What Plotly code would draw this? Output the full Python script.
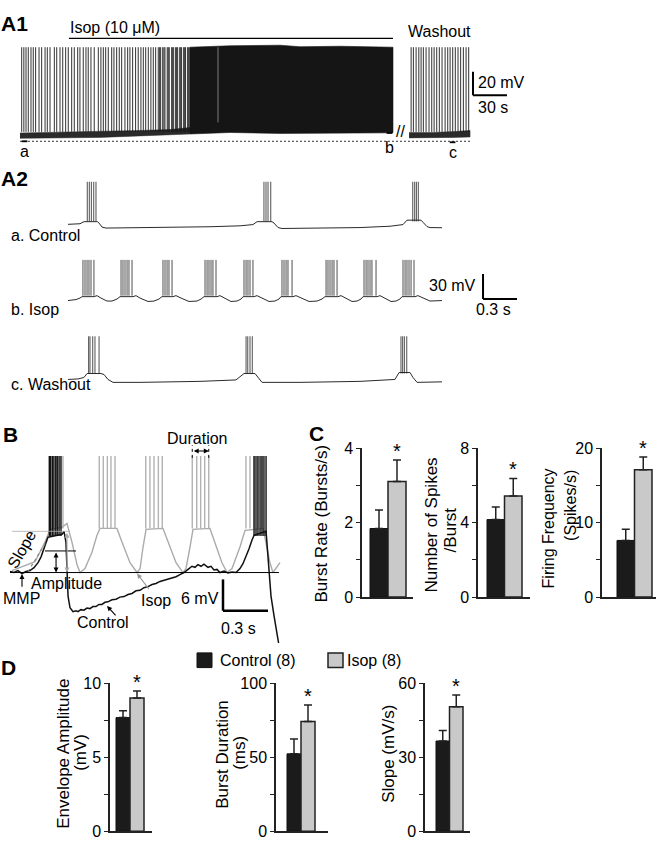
import plotly.graph_objects as go

W, H = 661, 854
SANS = "Liberation Sans, Arial"

# ---------------- A1: whole recording (time s, potential mV)
a1_spikes = [1.5, 3.4, 5.3, 7.3, 9.7, 11.7, 13.8, 16.8, 19.1, 22.1, 24.1, 26.5, 30.3, 32.4,
             35.3, 37.7, 40.3, 42.6, 45.6, 47.9, 50.9, 52.9, 55.8, 58.2, 60.2, 62.6, 65.5,
             69.1, 71.4, 73.5, 75.6, 77.9, 80.9, 82.9, 85.3, 87.6, 89.7, 92.6, 95.0, 97.0,
             99.4, 102.0, 104.3, 106.7, 108.8, 110.9, 113.2, 115.5, 117.6, 119.7, 122.0,
             123.2, 124.1, 125.9, 127.0, 127.9, 129.9, 130.8, 131.7, 133.8, 134.7, 135.6,
             137.3, 138.2, 139.1, 140.9, 141.8, 142.6, 144.4, 145.3, 146.1, 147.9, 148.8, 149.7]
a1_spike_top = 15.0
a1_spike_foot = -57.0
a1_base_t = [0, 35.3, 70.6, 105.9, 132.4, 150.0]
a1_base_lo = [-62.5, -62.1, -61.7, -60.4, -59.6, -58.8]
a1_base_hi = [-57.9, -57.5, -56.7, -55.8, -55.0, -53.3]
a1_block_t = [150.0, 185.3, 229.4, 247.1, 282.4, 329.1]
a1_block_top = [15.0, 16.2, 16.7, 15.4, 15.8, 15.0]
a1_block_bot = [-58.8, -57.5, -58.3, -58.3, -58.3, -57.8]
a1_faint = [174.7]
a1_wash_start = 343.3
a1_wash_spikes = [1.8, 3.8, 6.2, 8.6, 10.6, 12.6, 15.0, 17.6, 20.0, 22.1, 24.4, 26.7,
                  29.1, 31.8, 34.1, 36.2, 38.5, 40.8, 43.2, 45.5, 47.9, 50.3, 52.6]
a1_wash_t = [0, 20.0, 40.0, 53.8]
a1_wash_lo = [-62.1, -62.1, -61.7, -61.3]
a1_wash_hi = [-57.5, -57.5, -56.7, -55.8]
isop_on, isop_off = 43.2, 329.1
a1_rest = -65.0
a1_excerpt_t = [4.0, 326.0, 381.7]
a1_excerpt_lbl = ["a", "b", "c"]

# ---------------- A2: excerpts (time s, potential mV)
a2_ctrl_t = [0, 0.106, 0.141, 0.26, 0.274, 0.300, 0.335, 0.547, 0.900, 1.253, 1.518, 1.632, 1.668,
             1.800, 1.818, 1.853, 1.888, 2.224, 2.577, 2.841, 2.956, 2.991, 3.115, 3.132, 3.168,
             3.194, 3.300]
a2_ctrl_v = [-58.5, -57.8, -55.3, -55.3, -57.0, -61.8, -63.0, -62.8, -62.2, -61.4, -60.3, -58.8,
             -55.3, -55.3, -57.0, -62.4, -63.5, -63.3, -62.4, -60.8, -58.8, -53.5, -53.5, -56.0,
             -61.2, -62.4, -62.6]
a2_ctrl_spk = [0.170, 0.188, 0.206, 0.227, 0.247, 1.729, 1.747, 1.765, 1.789,
               3.042, 3.059, 3.074, 3.091]

a2_isop_t = [0.000, 0.071, 0.106, 0.124, 0.229, 0.256, 0.291, 0.344, 0.388, 0.432, 0.459, 0.574,
             0.600, 0.635, 0.706, 0.759, 0.803, 0.829, 0.926, 0.953, 0.997, 1.068, 1.138, 1.174,
             1.200, 1.315, 1.341, 1.385, 1.438, 1.491, 1.527, 1.544, 1.641, 1.668, 1.712, 1.774,
             1.826, 1.862, 1.879, 1.985, 2.012, 2.056, 2.127, 2.197, 2.241, 2.268, 2.382, 2.409,
             2.453, 2.506, 2.550, 2.585, 2.603, 2.727, 2.753, 2.797, 2.850, 2.894, 2.929, 2.947,
             3.062, 3.088, 3.132, 3.194, 3.300]
a2_isop_v = [-61.8, -60.6, -58.8, -57.1, -57.1, -55.9, -58.8, -62.4, -62.4, -60.0, -57.1, -57.1,
             -55.9, -58.8, -62.9, -62.4, -60.0, -57.1, -57.1, -55.9, -58.8, -62.9, -62.4, -60.0,
             -57.1, -57.1, -55.9, -58.8, -62.9, -62.4, -60.0, -57.1, -57.1, -55.9, -58.8, -62.9,
             -62.4, -60.0, -57.1, -57.1, -55.9, -58.8, -62.9, -62.4, -60.0, -57.1, -57.1, -55.9,
             -58.8, -62.9, -62.4, -60.0, -57.1, -57.1, -55.9, -58.8, -62.9, -62.4, -60.0, -57.1,
             -57.1, -55.9, -58.8, -62.4, -61.8]
a2_isop_spk = [0.132, 0.150, 0.168, 0.185, 0.203, 0.229, 0.468, 0.485, 0.503, 0.521, 0.538, 0.565,
               0.838, 0.856, 0.874, 0.891, 0.918, 1.209, 1.227, 1.244, 1.262, 1.279, 1.306,
               1.553, 1.571, 1.588, 1.606, 1.632, 1.888, 1.906, 1.924, 1.941, 1.977,
               2.277, 2.294, 2.312, 2.330, 2.347, 2.374, 2.612, 2.630, 2.647, 2.665, 2.682, 2.718,
               2.956, 2.974, 2.991, 3.009, 3.027, 3.053]

a2_wash_t = [0, 0.088, 0.141, 0.168, 0.291, 0.318, 0.353, 0.397, 0.635, 1.165, 1.482, 1.527,
             1.553, 1.650, 1.677, 1.712, 2.047, 2.577, 2.885, 2.921, 3.018, 3.044, 3.080, 3.300]
a2_wash_v = [-61.2, -60.6, -58.8, -54.1, -54.1, -55.3, -61.2, -64.7, -64.7, -63.5, -61.8, -57.6,
             -54.1, -54.1, -58.8, -64.7, -64.7, -63.5, -61.2, -52.9, -52.9, -58.8, -64.7, -64.1]
a2_wash_spk = [0.182, 0.194, 0.218, 0.238, 0.274, 1.571, 1.586, 1.606, 1.626,
               2.938, 2.953, 2.968, 2.989]

a2_peak = [-7.4, -13.0, -9.4]
a2_foot = [-55.0, -56.0, -54.0]
a2_offset = [0.0, -88.2, -183.5]
a2_names = ["a. Control", "b. Isop", "c. Washout"]

# ---------------- B: overlay (time s, mV above MMP)
b_isop_t = [0.013, 0.167, 0.233, 0.267, 0.347, 0.380, 0.413, 0.447, 0.467, 0.5, 0.547, 0.58, 0.6,
            0.713, 0.747, 0.8, 0.847, 0.867, 0.887, 0.907, 1.02, 1.053, 1.107, 1.153, 1.173, 1.2,
            1.22, 1.333, 1.367, 1.413, 1.447, 1.48, 1.533, 1.567, 1.687, 1.707, 1.733, 1.753,
            1.773, 1.8]
b_isop_v = [0.38, 2.06, 5.81, 8.25, 8.63, 9.38, 5.81, 1.5, 0, 0.75, 3.94, 7.13, 8.44, 8.44, 5.81,
            1.88, 0, 0.75, 4.88, 8.25, 8.44, 5.81, 1.88, 0, 0.75, 4.88, 8.25, 8.44, 5.81, 1.88,
            0, 0.75, 4.88, 8.06, 8.44, 5.81, 1.88, 0, 0.75, 1.88]
b_isop_spk = [0.267, 0.289, 0.311, 0.333, 0.353, 0.595, 0.622, 0.649, 0.673, 0.7,
              0.905, 0.933, 0.96, 0.989, 1.015, 1.215, 1.245, 1.271, 1.298, 1.325,
              1.573, 1.6, 1.627, 1.653, 1.68]
b_ctrl_t = [0, .027, .053, .08, .107, .133, .16, .187, .207, .227, .24, .253, .347, .36, .373,
            .38, .387, .4, .42, .44, .453, .473, .493, .513, .533, .553, .573, .593, .613, .633,
            .653, .68, .707, .733, .76, .787, .813, .84, .867, .893, .92, .947, .973, 1.0, 1.027,
            1.053, 1.08, 1.107, 1.133, 1.16, 1.187, 1.213, 1.233, 1.253, 1.273, 1.293, 1.32,
            1.34, 1.36, 1.38, 1.4, 1.427, 1.453, 1.48, 1.507, 1.533, 1.553, 1.573, 1.593, 1.613,
            1.627, 1.707, 1.713, 1.727, 1.74, 1.76, 1.78, 1.793]
b_ctrl_v = [0.19, 0, 0.38, -0.19, 0.19, 0.38, 0.94, 1.88, 3.0, 4.5, 5.81, 6.75, 7.31, 7.88, 5.81,
            0.19, -4.5, -6.75, -7.5, -7.3, -7.5, -7.1, -7.2, -6.8, -6.9, -6.5, -6.5, -6.1, -6.1,
            -5.7, -5.6, -5.2, -5.1, -4.7, -4.6, -4.2, -4.0, -3.5, -3.4, -2.9, -2.7, -2.3, -2.1,
            -1.7, -1.5, -1.3, -1.1, -0.8, -0.4, 0.0, 0.6, 1.2, 1.0, 1.5, 1.2, 1.6, 1.0, 1.2, 0.5,
            0.6, 0.0, 0.3, -0.1, 0.1, 0.0, 0.75, 1.69, 3.0, 4.5, 6.19, 7.13, 7.88, 5.81, 0.19,
            -4.5, -8.25, -12.0, -13.9]
b_ctrl_spk = [0.262, 0.271, 0.282, 0.293, 0.305, 0.315, 0.327, 0.34,
              1.627, 1.64, 1.653, 1.667, 1.68, 1.693, 1.707]
b_amp_ctrl, b_amp_isop = 4.13, 7.88
b_burst_on, b_burst_off = 1.215, 1.325

# ---------------- C and D: means and SEM
c_ctrl = [1.84, 4.16, 7.6]
c_ctrl_sem = [0.50, 0.68, 1.5]
c_isop = [3.10, 5.42, 17.1]
c_isop_sem = [0.58, 0.95, 1.7]
c_ymax = [4, 8, 20]
d_ctrl = [7.68, 52.3, 36.6]
d_ctrl_sem = [0.47, 10.0, 4.3]
d_isop = [9.0, 74.2, 50.5]
d_isop_sem = [0.47, 11.2, 4.7]
d_ymax = [10, 100, 60]

# pixel layout of the bar panels
c_axis_px, c_end_px, c_bar_px, c_bar_w = [362, 478, 602], [413, 530, 656], [370, 487, 617], [18, 17.5, 17.5]
d_axis_px, d_end_px, d_bar_px, d_bar_w = [110, 276, 425], [152, 328, 470], [116, 287, 436], [14, 14, 13.5]


def xp(v):
    return v / W


def yp(v):
    return 1 - v / H


def span(p0, p1, pref, vref, per):
    return [vref + (p0 - pref) * per, vref + (p1 - pref) * per]


def vspan(top, bot, pref, vref, per):
    return [vref - (bot - pref) * per, vref - (top - pref) * per]


def spikes(ts, foot, top, shift=0.0):
    xs, ys = [], []
    for t in ts:
        xs += [t + shift, t + shift, None]
        ys += [foot, top, None]
    return xs, ys


def band(ts, lo, hi, shift=0.0):
    xs = [t + shift for t in ts] + [t + shift for t in ts[::-1]]
    return xs, list(lo) + list(hi[::-1])


fig = go.Figure()
shapes, notes = [], []


def text(s, x, y, size=16, anchor="center", angle=0, bold=False):
    notes.append(dict(text="<b>%s</b>" % s if bold else s, x=xp(x), y=yp(y), xref="paper", yref="paper",
                      showarrow=False, xanchor=anchor, yanchor="middle", textangle=angle,
                      font=dict(family=SANS, size=size, color="black")))


# ---- A1
xs, ys = band(a1_base_t, a1_base_lo, a1_base_hi)
fig.add_trace(go.Scatter(x=xs, y=ys, fill="toself", fillcolor="#2a2a2a", mode="lines",
                         line=dict(color="#2a2a2a", width=0.5), xaxis="x", yaxis="y"))
xs, ys = band(a1_block_t, a1_block_bot, a1_block_top)
fig.add_trace(go.Scatter(x=xs, y=ys, fill="toself", fillcolor="#151515", mode="lines",
                         line=dict(color="#151515", width=0.6), xaxis="x", yaxis="y"))
xs, ys = spikes(a1_spikes, a1_spike_foot, a1_spike_top)
fig.add_trace(go.Scatter(x=xs, y=ys, mode="lines", line=dict(color="#1a1a1a", width=0.9),
                         xaxis="x", yaxis="y"))
xs, ys = spikes(a1_faint, a1_spike_foot + 8, a1_spike_top)
fig.add_trace(go.Scatter(x=xs, y=ys, mode="lines", line=dict(color="#888", width=0.9),
                         xaxis="x", yaxis="y"))
xs, ys = band(a1_wash_t, a1_wash_lo, a1_wash_hi, a1_wash_start)
fig.add_trace(go.Scatter(x=xs, y=ys, fill="toself", fillcolor="#2a2a2a", mode="lines",
                         line=dict(color="#2a2a2a", width=0.5), xaxis="x", yaxis="y"))
xs, ys = spikes(a1_wash_spikes, a1_spike_foot, a1_spike_top, a1_wash_start)
fig.add_trace(go.Scatter(x=xs, y=ys, mode="lines", line=dict(color="#1a1a1a", width=0.9),
                         xaxis="x", yaxis="y"))

shapes.append(dict(type="line", xref="x", yref="y", x0=0, x1=a1_wash_start + a1_wash_t[-1],
                   y0=a1_rest, y1=a1_rest, line=dict(color="#333", width=1, dash="2px,2px")))
shapes.append(dict(type="line", xref="x", yref="paper", x0=isop_on, x1=isop_off,
                   y0=yp(31), y1=yp(31), line=dict(color="black", width=1.2)))
for t, lbl, dy, ly in zip(a1_excerpt_t, a1_excerpt_lbl, [136, 127.5, 137], [146, 142, 147]):
    shapes.append(dict(type="line", xref="x", yref="paper", x0=t - 2.5, x1=t + 2.5,
                       y0=yp(dy), y1=yp(dy), line=dict(color="black", width=1.8)))
    notes.append(dict(text=lbl, x=t, y=yp(ly), xref="x", yref="paper", showarrow=False,
                      yanchor="middle", font=dict(family=SANS, size=16, color="black")))
# 20 mV / 30 s scale bar
a1_bar_t, a1_bar_v = 399.7, -25.8
shapes.append(dict(type="line", xref="x", yref="y", x0=a1_bar_t, x1=a1_bar_t,
                   y0=a1_bar_v, y1=a1_bar_v + 20, line=dict(color="black", width=2)))
shapes.append(dict(type="line", xref="x", yref="y", x0=a1_bar_t, x1=a1_bar_t + 30,
                   y0=a1_bar_v, y1=a1_bar_v, line=dict(color="black", width=2)))
text("A1", 14, 16, 21, bold=True)
text("Isop (10 μM)", 68, 20, 16, anchor="left")
text("Washout", 439, 24, 16)
text("//", 400, 126, 16)
text("20 mV", 476, 76, 16, anchor="left")
text("30 s", 476, 102, 16, anchor="left")

# ---- A2
for tt, vv, sp, pk, ft, off in zip([a2_ctrl_t, a2_isop_t, a2_wash_t], [a2_ctrl_v, a2_isop_v, a2_wash_v],
                                   [a2_ctrl_spk, a2_isop_spk, a2_wash_spk], a2_peak, a2_foot, a2_offset):
    fig.add_trace(go.Scatter(x=tt, y=[v + off for v in vv], mode="lines",
                             line=dict(color="#2a2a2a", width=1), xaxis="x2", yaxis="y2"))
    xs, ys = spikes(sp, ft + off, pk + off)
    fig.add_trace(go.Scatter(x=xs, y=ys, mode="lines", line=dict(color="#222", width=0.8),
                             xaxis="x2", yaxis="y2"))
a2_bar_t, a2_bar_v = 3.662, -148.2
shapes.append(dict(type="line", xref="x2", yref="y2", x0=a2_bar_t, x1=a2_bar_t,
                   y0=a2_bar_v, y1=a2_bar_v + 30, line=dict(color="black", width=2)))
shapes.append(dict(type="line", xref="x2", yref="y2", x0=a2_bar_t, x1=a2_bar_t + 0.3,
                   y0=a2_bar_v, y1=a2_bar_v, line=dict(color="black", width=2)))
text("A2", 14, 174, 21, bold=True)
for name, y in zip(a2_names, [232, 308, 384]):
    text(name, 9, y, 16, anchor="left")
text("30 mV", 478, 283, 16, anchor="right")
text("0.3 s", 493, 308, 16)

# ---- B
fig.add_trace(go.Scatter(x=b_isop_t, y=b_isop_v, mode="lines", line=dict(color="#ababab", width=1.4),
                         xaxis="x3", yaxis="y3"))
xs, ys = spikes(b_isop_spk, 8.4, 40)
fig.add_trace(go.Scatter(x=xs, y=ys, mode="lines", line=dict(color="#b2b2b2", width=1.4),
                         xaxis="x3", yaxis="y3"))
fig.add_trace(go.Scatter(x=b_ctrl_t, y=b_ctrl_v, mode="lines", line=dict(color="#111", width=1.5),
                         xaxis="x3", yaxis="y3"))
xs, ys = spikes(b_ctrl_spk, 7.0, 40)
fig.add_trace(go.Scatter(x=xs, y=ys, mode="lines", line=dict(color="#111", width=1.4),
                         xaxis="x3", yaxis="y3"))

shapes.append(dict(type="line", xref="x3", yref="y3", x0=0, x1=b_ctrl_t[-1], y0=0, y1=0,
                   line=dict(color="black", width=1)))
shapes.append(dict(type="line", xref="x3", yref="y3", x0=0.233, x1=0.44, y0=b_amp_ctrl, y1=b_amp_ctrl,
                   line=dict(color="black", width=1)))
shapes.append(dict(type="line", xref="x3", yref="y3", x0=0.013, x1=0.40, y0=b_amp_isop, y1=b_amp_isop,
                   line=dict(color="#aaa", width=0.8)))
shapes.append(dict(type="line", xref="x3", yref="y3", x0=0.12, x1=0.24, y0=0.19, y1=5.81,
                   line=dict(color="#888", width=1.2, dash="dot")))
for x0 in [b_burst_on, b_burst_off]:
    shapes.append(dict(type="line", xref="x3", yref="paper", x0=x0, x1=x0, y0=yp(459), y1=yp(446),
                       line=dict(color="black", width=1, dash="dot")))


def arrow(x, y, ax, ay, color="black", both=False, xref="x3", yref="y3"):
    ayref = yref if yref != "paper" else "pixel"
    if ayref == "pixel":
        ay = 0
    notes.append(dict(x=x, y=y, ax=ax, ay=ay, xref=xref, yref=yref, axref=xref, ayref=ayref,
                      text="", showarrow=True, arrowhead=2, arrowsize=0.9, arrowwidth=1.1,
                      arrowcolor=color, arrowside="end+start" if both else "end"))


arrow(0.307, 0, 0.307, b_amp_ctrl, both=True)
arrow(0.38, 0, 0.38, b_amp_isop, color="#aaa", both=True)
arrow(0.08, -0.3, 0.08, -3.0)
arrow(0.847, -0.2, 0.933, -3.4, color="#999")
arrow(0.647, -6.4, 0.713, -8.5)
arrow(b_burst_off, yp(452), b_burst_on, 0, both=True, yref="paper")

b_bar_t, b_bar_v = 1.42, -7.31
shapes.append(dict(type="line", xref="x3", yref="y3", x0=b_bar_t, x1=b_bar_t,
                   y0=b_bar_v, y1=b_bar_v + 6, line=dict(color="black", width=2.5)))
shapes.append(dict(type="line", xref="x3", yref="y3", x0=b_bar_t, x1=b_bar_t + 0.3,
                   y0=b_bar_v, y1=b_bar_v, line=dict(color="black", width=2.5)))
text("B", 10, 435, 21, bold=True)
text("Duration", 197, 439, 16)
text("Slope", 22, 553, 16, angle=-60)
text("Amplitude", 66, 587, 16)
text("MMP", 21, 603, 16)
text("Isop", 156, 605, 16)
text("Control", 103, 627, 16)
text("6 mV", 200, 602, 16)
text("0.3 s", 238, 633, 16)

# ---- C and D bar panels
layout_axes = {}


def bar_panel(k, ctrl, ctrl_e, isop, isop_e, ymax, ax_px, end_px, bar_px, bw, top, bot):
    xa, ya = "x%d" % k, "y%d" % k
    c0 = bar_px + bw / 2
    fig.add_trace(go.Bar(x=[0], y=[ctrl], width=1, marker=dict(color="#1b1b1b", line=dict(color="#111", width=1)),
                         error_y=dict(type="data", array=[ctrl_e], arrayminus=[0], symmetric=False,
                                      color="#222", thickness=1.5, width=4),
                         xaxis=xa, yaxis=ya))
    fig.add_trace(go.Bar(x=[1], y=[isop], width=1, marker=dict(color="#c9c9c9", line=dict(color="#222", width=1.5)),
                         error_y=dict(type="data", array=[isop_e], arrayminus=[0], symmetric=False,
                                      color="#222", thickness=1.5, width=4),
                         xaxis=xa, yaxis=ya))
    layout_axes["xaxis%d" % k] = dict(domain=[xp(ax_px), xp(end_px)], anchor=ya,
                                      range=[(ax_px - c0) / bw, (end_px - c0) / bw],
                                      showline=True, linecolor="#222", linewidth=1.5, ticks="",
                                      showticklabels=False, showgrid=False, zeroline=False)
    tv = [0, ymax / 4, ymax / 2, 3 * ymax / 4, ymax]
    layout_axes["yaxis%d" % k] = dict(domain=[yp(bot), yp(top)], anchor=xa, range=[0, ymax],
                                      showline=True, linecolor="#222", linewidth=1.5,
                                      ticks="outside", ticklen=4, tickwidth=1.3, tickcolor="#222",
                                      tickvals=tv, ticktext=["0", "", "%g" % (ymax / 2), "", "%g" % ymax],
                                      tickfont=dict(family=SANS, size=16, color="black"),
                                      showgrid=False, zeroline=False)
    notes.append(dict(text="*", x=1, y=isop + isop_e, xref=xa, yref=ya, showarrow=False,
                      yanchor="bottom", yshift=-4, font=dict(family=SANS, size=20, color="black")))


for i in range(3):
    bar_panel(4 + i, c_ctrl[i], c_ctrl_sem[i], c_isop[i], c_isop_sem[i], c_ymax[i],
              c_axis_px[i], c_end_px[i], c_bar_px[i], c_bar_w[i], 449, 601)
    bar_panel(7 + i, d_ctrl[i], d_ctrl_sem[i], d_isop[i], d_isop_sem[i], d_ymax[i],
              d_axis_px[i], d_end_px[i], d_bar_px[i], d_bar_w[i], 689, 840)

text("C", 316, 434, 21, bold=True)
text("Burst Rate (Bursts/s)", 322, 526, 17, angle=-90)
text("Number of Spikes", 432, 527, 17, angle=-90)
text("/Burst", 450, 533, 17, angle=-90)
text("Firing Frequency", 548, 531, 16, angle=-90)
text("(Spikes/s)", 571, 508, 16, angle=-90)
text("D", 8, 673, 21, bold=True)
text("Envelope Amplitude", 64, 761, 17, angle=-90)
text("(mV)", 81, 760, 17, angle=-90)
text("Burst Duration", 223, 762, 17, angle=-90)
text("(ms)", 240, 760, 17, angle=-90)
text("Slope (mV/s)", 389, 761, 17, angle=-90)

# legend
shapes.append(dict(type="rect", xref="paper", yref="paper", x0=xp(197), x1=xp(212), y0=yp(673), y1=yp(658),
                   fillcolor="#1b1b1b", line=dict(color="#111", width=1)))
shapes.append(dict(type="rect", xref="paper", yref="paper", x0=xp(328), x1=xp(343), y0=yp(673), y1=yp(658),
                   fillcolor="#c9c9c9", line=dict(color="#222", width=1.5)))
text("Control (8)", 218, 666, 16, anchor="left")
text("Isop (8)", 345, 666, 16, anchor="left")

hidden = dict(visible=False, showgrid=False, zeroline=False)
fig.update_layout(
    width=W, height=H, margin=dict(l=0, r=0, t=0, b=0),
    paper_bgcolor="white", plot_bgcolor="rgba(0,0,0,0)",
    font=dict(family=SANS, color="black"),
    showlegend=False, barmode="overlay",
    xaxis=dict(hidden, domain=[xp(20), xp(520)], range=span(20, 520, 20, 0, 30 / 34), anchor="y"),
    yaxis=dict(hidden, domain=[yp(150), yp(35)], range=vspan(35, 150, 130, -60, 20 / 24), anchor="x"),
    xaxis2=dict(hidden, domain=[xp(60), xp(530)], range=span(60, 530, 68, 0, 0.3 / 34), anchor="y2"),
    yaxis2=dict(hidden, domain=[yp(392), yp(170)], range=vspan(170, 392, 222, -60, 30 / 25.5), anchor="x2"),
    xaxis3=dict(hidden, domain=[xp(5), xp(285)], range=span(5, 285, 10, 0, 1 / 150), anchor="y3"),
    yaxis3=dict(hidden, domain=[yp(648), yp(457)], range=vspan(457, 648, 576, 0, 6 / 32), anchor="x3"),
    shapes=shapes, annotations=notes,
)
fig.update_layout(**layout_axes)

fig.write_html("out.html", config={"displayModeBar": False},
               post_script="document.body.style.margin = '0';")
